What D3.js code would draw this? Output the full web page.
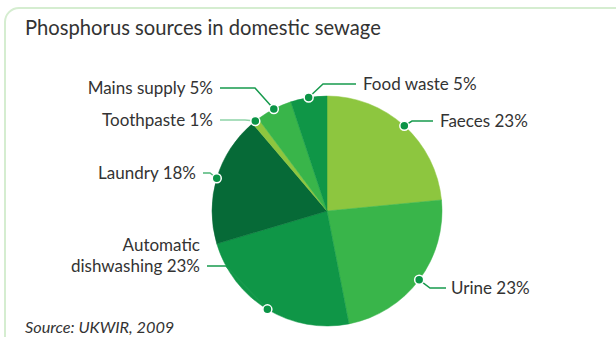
<!DOCTYPE html>
<html>
<head>
<meta charset="utf-8">
<script src="https://cdn.jsdelivr.net/npm/d3@7"></script>
<style>
  html, body { margin: 0; padding: 0; background: #fff; }
  svg { display: block; font-family: Lato, "Open Sans", sans-serif; }
</style>
</head>
<body>
<svg id="chart" width="616" height="337"></svg>
<script>
// Phosphorus sources (share of total, %)
const categories = ["Faeces", "Urine", "Automatic dishwashing", "Laundry", "Toothpaste", "Mains supply", "Food waste"];
const shares = [23, 23, 23, 18, 1, 5, 5];
const labelLines = [["Faeces 23%"], ["Urine 23%"], ["Automatic", "dishwashing 23%"], ["Laundry 18%"], ["Toothpaste 1%"], ["Mains supply 5%"], ["Food waste 5%"]];

const sliceColours = ["#8dc63f", "#39b54a", "#0f9647", "#066a37"];

// label placement: side, text anchor x, leader line y, line start x, elbow x
const labelLayout = {
  "Faeces":                { side: "right", tx: 440, ly: 121, lx: 433, ex: 412 },
  "Urine":                 { side: "right", tx: 451, ly: 288, lx: 446, ex: 430 },
  "Automatic dishwashing": { side: "left",  tx: 200, ly: 266, lx: 207, ex: 226 },
  "Laundry":               { side: "left",  tx: 196, ly: 173, lx: 203, ex: 210 },
  "Toothpaste":            { side: "left",  tx: 213, ly: 120, lx: 220, ex: 245 },
  "Mains supply":          { side: "left",  tx: 213, ly: 88,  lx: 220, ex: 255 },
  "Food waste":            { side: "right", tx: 363, ly: 84,  lx: 356, ex: 323 }
};
const lineColours = { "Toothpaste": "#8fd3a8", "Laundry": "#4fb778" };

const svg = d3.select("#chart");

// rounded panel frame
svg.append("rect")
  .attr("x", 5).attr("y", 8)
  .attr("width", 720).attr("height", 420)
  .attr("rx", 14)
  .attr("fill", "none")
  .attr("stroke", "#d5edd0")
  .attr("stroke-width", 2);

svg.append("text")
  .attr("x", 25).attr("y", 35)
  .attr("font-size", 20.2)
  .attr("fill", "#333")
  .text("Phosphorus sources in domestic sewage");

const cx = 327, cy = 211, r = 115;
const data = categories.map((c, i) => ({ name: c, value: shares[i], lines: labelLines[i] }));

const pie = d3.pie().value(d => d.value).sort(null);
const arcs = pie(data);
const arc = d3.arc().innerRadius(0).outerRadius(r);

const g = svg.append("g").attr("transform", `translate(${cx},${cy})`);

g.selectAll("path.slice")
  .data(arcs)
  .join("path")
  .attr("class", "slice")
  .attr("d", arc)
  .attr("fill", (d, i) => sliceColours[i % sliceColours.length])
  .attr("stroke", (d, i) => sliceColours[i % sliceColours.length])
  .attr("stroke-width", 0.5);

// point on the rim at each slice's mid angle
function rimPoint(d) {
  const a = (d.startAngle + d.endAngle) / 2;
  return [cx + r * Math.sin(a), cy - r * Math.cos(a)];
}

const labels = svg.append("g");
arcs.forEach(d => {
  const L = labelLayout[d.data.name];
  const [px, py] = rimPoint(d);
  const path = d3.path();
  path.moveTo(L.lx, L.ly);
  path.lineTo(L.ex, L.ly);
  path.lineTo(px, py);
  labels.append("path")
    .attr("d", path.toString())
    .attr("fill", "none")
    .attr("stroke", lineColours[d.data.name] || "#179a4d")
    .attr("stroke-width", 1.5);
  labels.append("circle")
    .attr("cx", px).attr("cy", py).attr("r", 4.5)
    .attr("fill", "#0b9446")
    .attr("stroke", "#fff")
    .attr("stroke-width", 1.5);

  const n = d.data.lines.length;
  const t = labels.append("text")
    .attr("x", L.tx)
    .attr("text-anchor", L.side === "left" ? "end" : "start")
    .attr("font-size", 17)
    .attr("fill", "#333");
  d.data.lines.forEach((line, i) => {
    t.append("tspan")
      .attr("x", L.tx)
      .attr("y", L.ly + 6 - (n - 1 - i) * 21.5)
      .text(line);
  });
});

svg.append("text")
  .attr("x", 25).attr("y", 333)
  .attr("font-size", 16.3)
  .attr("font-style", "italic")
  .attr("fill", "#333")
  .text("Source: UKWIR, 2009");
</script>
</body>
</html>
